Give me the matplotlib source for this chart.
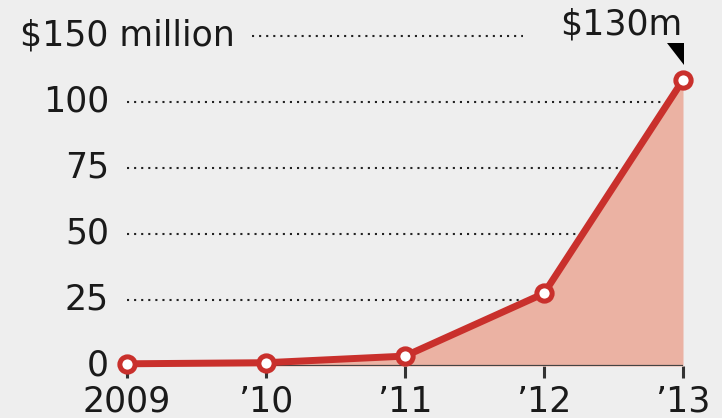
import matplotlib.pyplot as plt
import matplotlib.transforms as mtransforms
from matplotlib.patches import Polygon

plt.rcParams['font.family'] = ['DejaVu Sans']

# Annual figures, $ million
years = ['2009', '\u201910', '\u201911', '\u201912', '\u201913']
values = [1, 1.5, 4.5, 33, 130]

# Gridline positions and the labels printed beside them
grid_values = [0, 30, 60, 90, 120]
grid_labels = ['0', '25', '50', '75', '100']
top_value = 150
top_label = '$150 million'
callout = '$130m'

bg = '#eeeeee'
red = '#c9302c'
fill = '#ebb2a3'
ink = '#1a1a1a'
fs = 25

fig = plt.figure(figsize=(7.22, 4.18), dpi=100, facecolor=bg)
ax = fig.add_axes([127 / 722, 52 / 418, 556 / 722, 330 / 418])
ax.set_facecolor(bg)
x = list(range(len(years)))
ax.set_xlim(0, len(years) - 1)
ax.set_ylim(0, top_value)
for s in ax.spines.values():
    s.set_visible(False)

# dotted gridlines, the area fill sits on top of them
dots = (0, (1, 2.4))
ax.hlines(grid_values[1:], 0, len(years) - 1, colors='#222222',
          linestyles=dots, linewidth=1.5, zorder=1)
ax.hlines(top_value, 0.9, 2.85, colors='#222222', linestyles=dots,
          linewidth=1.5, zorder=1, clip_on=False)

ax.fill_between(x, values, 0, color=fill, lw=0, zorder=2)
ax.axhline(0, color='#444444', lw=1.6, zorder=3)
ax.plot(x, values, color=red, lw=5, marker='o', ms=11, mfc='white',
        mec=red, mew=3.6, zorder=4, clip_on=False)

ax.set_xticks(x, years)
ax.tick_params(axis='x', length=8.6, width=2.2, color='#333333', pad=5,
               labelsize=fs, labelcolor=ink)
ax.set_yticks(grid_values, grid_labels)
ax.tick_params(axis='y', length=0, pad=13, labelsize=fs, labelcolor=ink)
# lift the value labels a little above their gridlines
lift = mtransforms.ScaledTranslation(0, 0.04, fig.dpi_scale_trans)
for lab in ax.get_yticklabels():
    lab.set_transform(lab.get_transform() + lift)

ax.annotate(top_label, xy=(0, top_value), xytext=(-107, 4),
            textcoords='offset pixels', ha='left', va='center_baseline',
            fontsize=fs, color=ink, annotation_clip=False)

# callout for the last value with a small pointer triangle
last = len(years) - 1
ax.annotate(callout, xy=(last, values[-1]), xytext=(-1, 45),
            textcoords='offset pixels', ha='right', va='baseline',
            fontsize=fs, color=ink, annotation_clip=False)
tri = fig.dpi_scale_trans + mtransforms.ScaledTranslation(last, values[-1], ax.transData)
ax.add_patch(Polygon([(-0.165, 0.37), (0.01, 0.37), (0.01, 0.15)], closed=True,
                     facecolor='black', edgecolor='none', transform=tri,
                     clip_on=False, zorder=5))

fig.savefig('out.png', dpi=100, facecolor=fig.get_facecolor())
